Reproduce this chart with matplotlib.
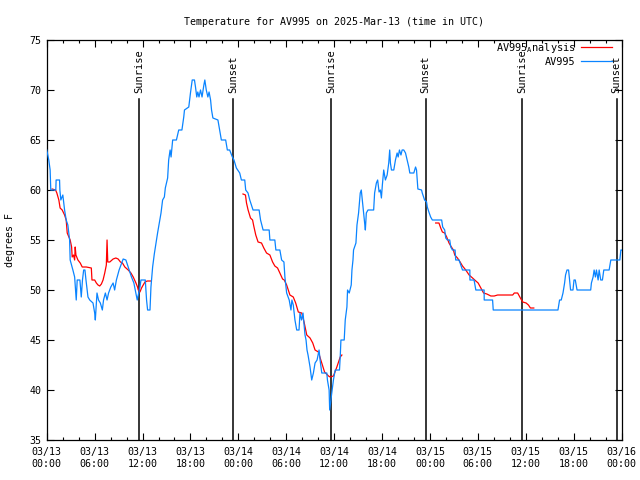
import numpy as np
import pandas as pd
import matplotlib
matplotlib.use("Agg")
import matplotlib.pyplot as plt
import matplotlib.dates as mdates

plt.rcParams['font.family'] = ['DejaVu Sans Mono']
plt.rcParams['font.size'] = 7.2

start = pd.Timestamp('2025-03-13 00:00')

# observed AV995 temperatures: (hours since 03/13 00:00 UTC, deg F)
obs_hours = [
    0.00, 0.25, 0.42, 0.50, 1.13, 1.17, 1.60, 1.64, 1.76, 2.01, 2.23, 2.43, 2.64, 2.86, 2.93,
    3.27, 3.49, 3.69, 3.81, 4.15, 4.32, 4.47, 4.62, 4.78, 4.91, 5.16, 5.38, 5.79, 6.00, 6.08,
    6.29, 6.48, 6.71, 6.96, 7.11, 7.34, 7.55, 7.74, 8.02, 8.31, 8.50, 8.72, 9.06, 9.57, 9.91,
    10.20, 10.61, 10.91, 11.08, 11.33, 11.67, 11.80, 12.34, 12.50, 12.63, 12.93, 13.05, 13.26,
    13.47, 13.68, 13.88, 14.10, 14.31, 14.51, 14.73, 14.85, 15.14, 15.27, 15.45, 15.57, 15.77,
    16.24, 16.53, 16.93, 17.16, 17.25, 17.79, 18.00, 18.22, 18.50, 18.63, 18.79, 18.92, 19.07,
    19.26, 19.45, 19.68, 19.80, 19.98, 20.18, 20.33, 20.52, 20.64, 20.81, 21.44, 21.65, 21.87,
    22.41, 22.62, 22.91, 23.25, 23.45, 23.75, 24.17, 24.38, 24.80, 24.92, 25.21, 25.43, 25.84,
    26.60, 26.78, 27.10, 27.86, 27.95, 28.57, 28.70, 29.20, 29.42, 29.71, 29.83, 30.05, 30.37,
    30.59, 30.71, 30.88, 31.09, 31.31, 31.60, 31.72, 31.91, 32.10, 32.23, 32.35, 32.48, 32.60,
    32.73, 32.98, 33.19, 33.40, 33.61, 33.86, 34.11, 34.24, 34.45, 35.08, 35.16, 35.37, 35.44,
    35.59, 35.75, 35.91, 36.13, 36.67, 36.76, 36.85, 37.26, 37.39, 37.60, 37.68, 37.89, 38.14,
    38.23, 38.36, 38.43, 38.73, 38.86, 39.06, 39.27, 39.40, 39.61, 39.82, 39.91, 40.03, 40.24,
    40.95, 41.07, 41.29, 41.45, 41.63, 41.79, 41.92, 42.04, 42.21, 42.42, 42.64, 42.84, 42.96,
    43.05, 43.18, 43.47, 43.68, 43.89, 44.02, 44.18, 44.37, 44.52, 44.72, 44.94, 45.15, 45.35,
    45.48, 45.98, 46.20, 46.32, 46.49, 46.95, 47.04, 47.33, 47.58, 47.67, 47.87, 48.09, 48.30,
    49.47, 49.60, 49.85, 49.98, 50.19, 50.48, 50.61, 50.82, 51.15, 51.23, 51.65, 51.78, 52.08,
    53.00, 53.01, 53.53, 53.75, 54.79, 54.80, 55.85, 55.93, 64.04, 64.24, 64.45, 64.67, 64.87,
    64.99, 65.17, 65.37, 65.50, 65.62, 65.92, 66.05, 66.21, 66.43, 68.14, 68.23, 68.44, 68.57,
    68.73, 68.86, 69.07, 69.20, 69.40, 69.61, 69.78, 70.45, 70.66, 71.79, 71.92, 72.00,
]
obs_temps = [
    64, 63, 62, 60, 60, 61, 61, 60, 59, 59.5, 58, 57, 56.5, 55, 53,
    52, 51.3, 49, 51, 51, 49.3, 51, 52, 52, 51, 49.3, 49, 48.7, 47.7, 47,
    49.7, 49, 48.7, 48, 49, 49.7, 49, 49.7, 50.3, 50.7, 50, 51, 52, 53.1, 53,
    52.3, 51.3, 50.7, 50, 49, 50.3, 51, 51, 49, 48, 48, 50.3, 52.3,
    53.6, 54.7, 55.7, 56.7, 57.7, 59, 59.3, 60.2, 61.2, 63, 64, 63.3, 65,
    65, 66, 66, 67.3, 68, 68.3, 69.7, 71, 71, 70.3, 69.3, 69.8, 69.3,
    70, 69.3, 70.5, 71, 70, 69.3, 69.8, 69, 68, 67.2, 67, 66, 65,
    65, 64, 64, 63.3, 63, 62.2, 61.7, 61, 61, 60, 59.7, 59, 58,
    58, 57, 56, 56, 55, 55, 54, 54, 53, 52.8, 51.3, 49.7, 49,
    48, 49, 48.5, 47, 46, 46, 47.7, 47, 47.7, 46.5, 45.5, 45, 44,
    43.5, 42.3, 41, 41.7, 42.7, 43, 44, 43, 41.7, 41.7, 41, 40, 38,
    39, 40, 41, 42, 42, 43.3, 45, 45, 47, 48.3, 50, 49.7, 50.5,
    52, 53, 54, 54.7, 56.5, 57.7, 59.7, 60, 58.3, 56.7, 56, 57.7, 58,
    58, 59.7, 60.7, 61, 59.8, 60, 59.2, 60.5, 62, 61, 61.5, 62.7, 64,
    62.7, 62, 62, 63, 63.7, 63.3, 64, 63.5, 64, 64, 63.7, 63, 62.3,
    61.7, 61.7, 62.3, 62, 60.1, 60, 59.7, 59, 58.8, 58.3, 57.8, 57.3, 57,
    57, 56.3, 56, 55.2, 55, 55, 54.3, 54, 54, 53, 53, 52.7, 52,
    52, 51, 51, 50, 50, 49, 49, 48, 48, 49, 49, 49.7, 50.7,
    51.5, 52, 52, 51, 50, 50, 51, 51, 50, 50, 50.7, 51.3, 52,
    51.3, 52, 51, 52, 51, 51, 52, 52, 53, 53, 54, 54,
]

# analysis series, three separate pieces
ana1_hours = [0.67, 1.10, 1.26, 1.51, 1.67, 1.93, 2.23, 2.43, 2.56, 2.77, 2.93, 3.11, 3.18,
              3.34, 3.49, 3.56, 3.65, 3.90, 4.19, 4.44, 4.95, 5.58, 5.66, 6.00, 6.21, 6.42,
              6.63, 6.84, 7.05, 7.26, 7.46, 7.55, 7.64, 7.89, 8.31, 8.65, 8.94, 9.23, 9.48,
              9.78, 10.20, 10.54, 10.83, 11.17, 11.37, 11.46, 11.67, 11.87, 12.08, 12.30,
              12.59, 13.00]
ana1_temps = [60.1, 60, 59.7, 59, 58.2, 58, 57.5, 57, 55.7, 55.3, 55, 54.3, 53.3,
              53.5, 53, 54.3, 53.5, 53, 52.7, 52.3, 52.3, 52.2, 51, 51, 50.7, 50.5,
              50.4, 50.6, 51, 51.7, 52.5, 55, 52.8, 52.8, 53.1, 53.2, 53.1, 52.8, 52.7,
              52.3, 52, 51.7, 51.3, 50.7, 50.3, 50, 49.8, 50.2, 50.5, 50.8,
              50.9, 50.9]
ana2_hours = [24.58, 24.89, 25.02, 25.22, 25.52, 25.78, 25.93, 26.18, 26.47, 26.90, 27.19,
              27.53, 27.95, 28.29, 28.57, 28.91, 29.20, 29.54, 29.75, 30.05, 30.46, 30.88,
              31.18, 31.51, 31.94, 32.23, 32.57, 32.98, 33.32, 33.61, 34.03, 34.33, 34.80,
              35.30, 35.50, 35.91, 36.34, 36.76, 36.97]
ana2_temps = [59.6, 59.5, 58.7, 58, 57.2, 57, 56.4, 55.5, 54.8, 54.7, 54.2,
              53.7, 53.5, 52.8, 52.4, 52.2, 51.7, 51.1, 51, 50.5, 49.5, 49.3,
              48.7, 47.8, 47.7, 46.8, 45.5, 45.2, 44.7, 44, 43.8, 43, 41.8,
              41.4, 41.3, 41.4, 42.3, 43.3, 43.5]
ana3_hours = [48.72, 49.13, 49.35, 49.56, 49.85, 50.10, 50.39, 50.69, 50.94, 51.11, 51.45,
              51.78, 52.08, 52.49, 52.91, 53.34, 53.75, 54.04, 54.38, 54.72, 55.13, 55.63,
              56.05, 56.48, 58.37, 58.57, 58.99, 59.33, 59.63, 60.05, 60.34, 60.59, 61.01]
ana3_temps = [56.7, 56.7, 56.2, 55.8, 55.7, 55.3, 54.7, 54.3, 54, 53.5, 53.2,
              52.8, 52.4, 52, 51.5, 51.2, 50.9, 50.7, 50.2, 49.7, 49.6, 49.4,
              49.4, 49.5, 49.5, 49.7, 49.7, 49.2, 48.8, 48.7, 48.5, 48.2, 48.2]

sunrise_hours = [11.59, 35.60, 59.56]
sunset_hours = [23.36, 47.46, 71.39]


def to_time(h):
    return start + pd.to_timedelta(np.array(h), unit='h')


fig = plt.figure(figsize=(6.4, 4.8), dpi=100)
ax = fig.add_axes([0.0731, 0.0833, 0.8980, 0.8334])

line_top = 69.1
for h, lab in [(s, 'Sunrise') for s in sunrise_hours] + [(s, 'Sunset') for s in sunset_hours]:
    t = to_time([h])[0]
    ax.plot([t, t], [35, line_top], color='black', lw=1.1, zorder=1)
    ax.text(t, line_top + 0.6, lab, rotation=90, ha='center', va='bottom', fontsize=7.5)

red = '#ff0000'
blue = '#0a84ff'
ax.plot(to_time(ana1_hours), ana1_temps, color=red, lw=0.9, label='AV995$_\\mathregular{A}$nalysis', zorder=2)
ax.plot(to_time(ana2_hours), ana2_temps, color=red, lw=0.9, zorder=2)
ax.plot(to_time(ana3_hours), ana3_temps, color=red, lw=0.9, zorder=2)
ax.plot(to_time(obs_hours), obs_temps, color=blue, lw=0.9, label='AV995', zorder=3)

ax.set_xlim(start, start + pd.Timedelta(hours=72))
ax.set_ylim(35, 75)
ax.set_yticks(range(35, 76, 5))
ax.xaxis.set_major_locator(mdates.HourLocator(byhour=range(0, 24, 6)))
ax.xaxis.set_minor_locator(mdates.HourLocator(byhour=range(0, 24, 2)))
ax.xaxis.set_major_formatter(mdates.DateFormatter('%m/%d\n%H:%M'))
ax.tick_params(which='both', direction='in', top=True, right=True)
ax.tick_params(which='major', length=5, width=0.8, pad=5)
ax.tick_params(which='minor', length=2.5, width=0.8)
ax.tick_params(axis='y', pad=4)
for sp in ax.spines.values():
    sp.set_linewidth(0.9)

ax.set_title('Temperature for AV995 on 2025-Mar-13 (time in UTC)', pad=11, fontsize=7.2)
ax.set_ylabel('degrees F')
ax.yaxis.set_label_coords(-0.056, 0.5)

ax.legend(loc='upper right', bbox_to_anchor=(0.9845, 1.0), markerfirst=False, frameon=False,
          handlelength=3.0, borderaxespad=0.0, borderpad=0.1, labelspacing=0.15,
          handletextpad=0.5, fontsize=7.4)

fig.savefig('out.png', dpi=100)
